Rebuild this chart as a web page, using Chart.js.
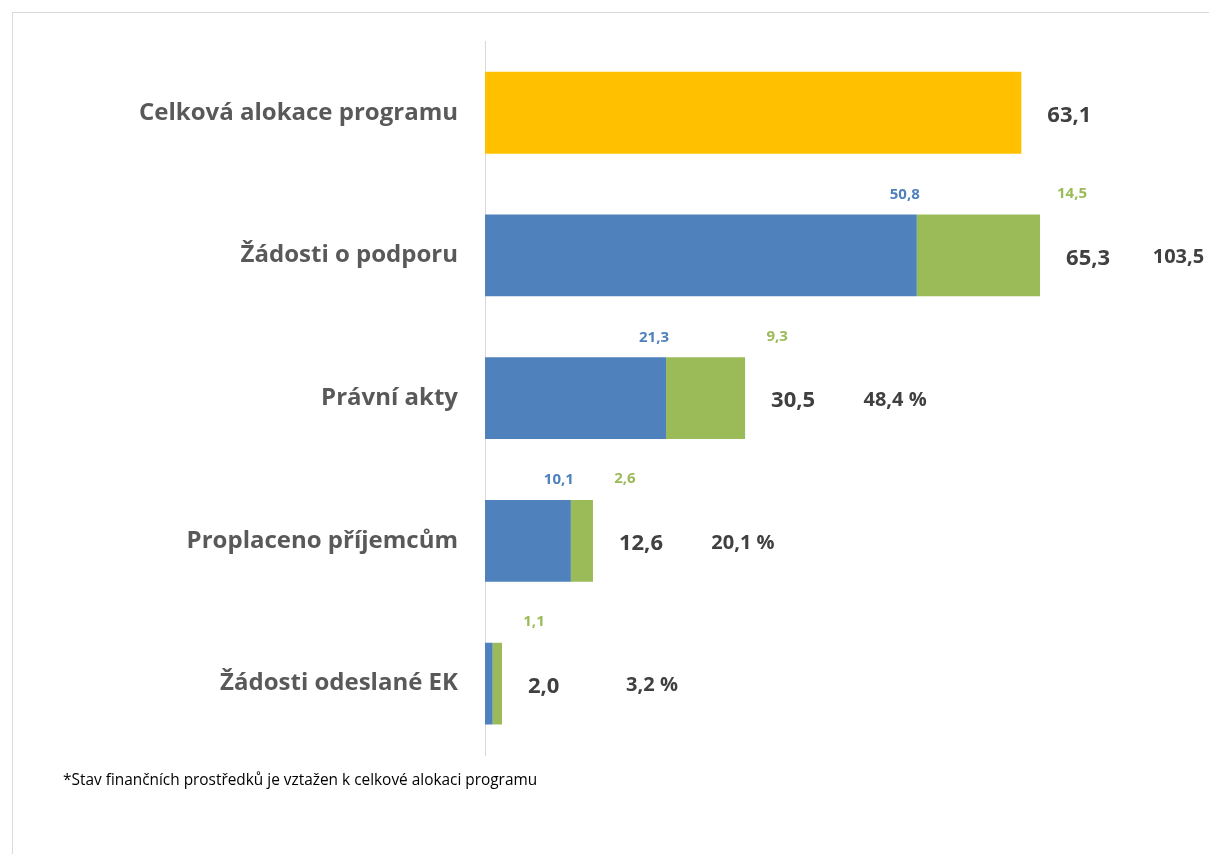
<!DOCTYPE html>
<html>
<head>
<meta charset="utf-8">
<script src="https://cdn.jsdelivr.net/npm/chart.js@4"></script>
<style>
  body { margin: 0; background: #fff; }
  #ramecek { position: absolute; left: 12px; top: 12px; width: 1300px; height: 900px; border: 1px solid #d9d9d9; }
  #graf { position: absolute; left: 0; top: 0; }
  #poznamka { position: absolute; left: 63px; top: 769px; font: 15.4px "Open Sans", sans-serif; color: #000; }
</style>
</head>
<body>
<div id="ramecek"></div>
<canvas id="graf" width="1209" height="854"></canvas>
<div id="poznamka">*Stav finančních prostředků je vztažen k celkové alokaci programu</div>
<script>
const graf = document.getElementById('graf');

// kategorie a hodnoty (mld. Kč)
let kategorie = ['Celková alokace programu', 'Žádosti o podporu', 'Právní akty', 'Proplaceno příjemcům', 'Žádosti odeslané EK'];
let alokace = [63.1, null, null, null, null];
let modra = [null, 50.8, 21.3, 10.1, 0.9];
let zelena = [null, 14.5, 9.3, 2.6, 1.1];
let celkem = [63.1, 65.3, 30.5, 12.6, 2.0];
let procenta = [null, 103.5, 48.4, 20.1, 3.2];

const pismo = '"Open Sans", sans-serif';

function cislo(v) {
  return v.toFixed(1).replace('.', ',');
}

// popisky u sloupců
const popisky = {
  id: 'popisky',
  afterDatasetsDraw(chart) {
    const ctx = chart.ctx;
    ctx.save();
    ctx.textBaseline = 'middle';
    for (let i = 0; i < kategorie.length; i++) {
      let konec, stred, vrch;
      if (i == 0) {
        const el = chart.getDatasetMeta(0).data[i];
        konec = el.x; stred = el.y; vrch = el.y - el.height / 2;
      } else {
        const b = chart.getDatasetMeta(1).data[i];
        const z = chart.getDatasetMeta(2).data[i];
        konec = z.x; stred = z.y; vrch = z.y - z.height / 2;

        ctx.font = 'bold 15px ' + pismo;
        ctx.textAlign = 'center';
        if (modra[i] >= 1) { // malá hodnota v originále bez popisku
          ctx.fillStyle = '#4f81bd';
          ctx.fillText(cislo(modra[i]), b.x - 12, vrch - 20);
        }
        ctx.fillStyle = '#9bbb59';
        ctx.fillText(cislo(zelena[i]), konec + 32, vrch - 21);
      }
      ctx.fillStyle = '#404040';
      ctx.textAlign = 'left';
      ctx.font = 'bold 22px ' + pismo;
      ctx.fillText(cislo(celkem[i]), konec + 26, stred + 3);
      if (procenta[i] != null) {
        ctx.textAlign = 'center';
        ctx.font = 'bold 20px ' + pismo;
        ctx.fillText(cislo(procenta[i]) + ' %', konec + 150, stred + 2);
      }
    }
    ctx.restore();
  }
};

var dataGraf = {
  labels: kategorie,
  datasets: [
    { label: 'Alokace', data: alokace, backgroundColor: '#ffc000' },
    { label: 'EU', data: modra, backgroundColor: '#4f81bd' },
    { label: 'ČR', data: zelena, backgroundColor: '#9bbb59' }
  ]
};

var options = {
  responsive: false,
  animation: false,
  indexAxis: 'y',
  layout: { padding: { top: 39, bottom: 99, left: 0, right: 44 } },
  datasets: { bar: { categoryPercentage: 1, barPercentage: 0.573 } },
  scales: {
    x: { stacked: true, min: 0, max: 80, display: false },
    y: {
      stacked: true,
      grid: { display: false, drawTicks: false },
      border: { display: true, color: '#d9d9d9', width: 1 },
      ticks: { color: '#595959', padding: 27, font: { family: 'Open Sans', size: 24, weight: 'bold' } },
      afterFit(scale) { scale.width = 485; }
    }
  },
  plugins: { legend: { display: false }, tooltip: { enabled: false } }
};

const chartGraf = new Chart(graf, { type: 'bar', data: dataGraf, options: options, plugins: [popisky] });
</script>
</body>
</html>
